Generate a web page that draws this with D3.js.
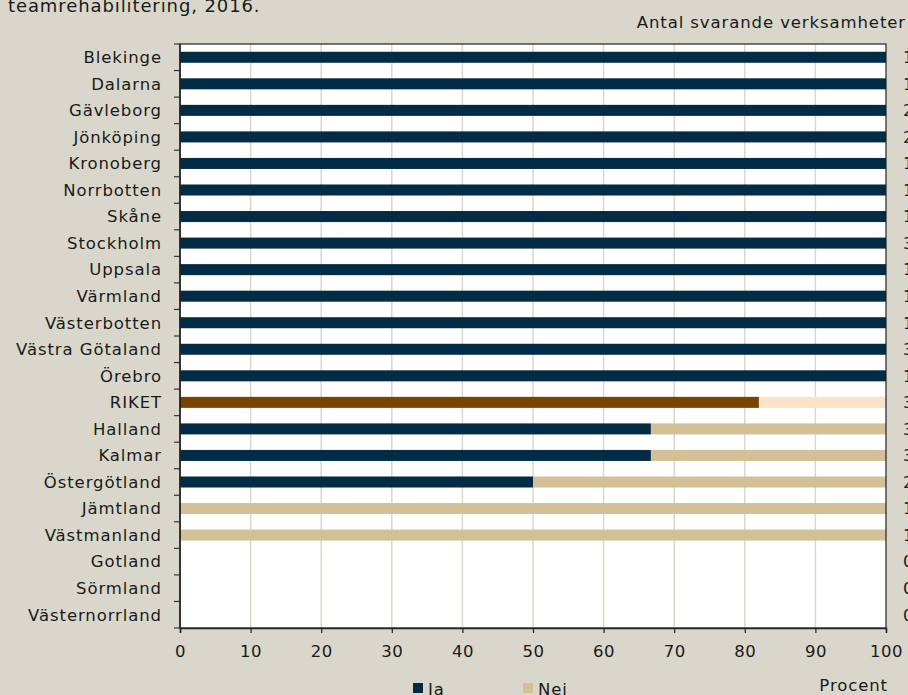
<!DOCTYPE html>
<html>
<head>
<meta charset="utf-8">
<script src="https://cdn.jsdelivr.net/npm/d3@7"></script>
<style>
  html, body { margin: 0; padding: 0; background: #d9d7cb; overflow: hidden; }
  text { font-family: "DejaVu Sans", sans-serif; fill: #1a1a1a; }
</style>
</head>
<body>
<div id="chart"></div>
<script>
// DATA
const regions = ["Blekinge", "Dalarna", "Gävleborg", "Jönköping", "Kronoberg", "Norrbotten",
  "Skåne", "Stockholm", "Uppsala", "Värmland", "Västerbotten", "Västra Götaland", "Örebro",
  "RIKET", "Halland", "Kalmar", "Östergötland", "Jämtland", "Västmanland",
  "Gotland", "Sörmland", "Västernorrland"];
const jaValues = [100, 100, 100, 100, 100, 100, 100, 100, 100, 100, 100, 100, 100,
  82, 66.7, 66.7, 50, 0, 0, 0, 0, 0];
const nejValues = [0, 0, 0, 0, 0, 0, 0, 0, 0, 0, 0, 0, 0,
  18, 33.3, 33.3, 50, 100, 100, 0, 0, 0];
const counts = [1, 1, 2, 2, 1, 1, 1, 3, 1, 1, 1, 3, 1, 33, 3, 3, 2, 1, 1, 0, 0, 0];
const xTicks = [0, 10, 20, 30, 40, 50, 60, 70, 80, 90, 100];
const seriesNames = ["Ja", "Nei"];

const width = 908;
const height = 695;
const margin = { top: 44, right: 22, bottom: 67, left: 180 };

const colors = {
  ja: "#022b45",
  nej: "#d3c096",
  rikeJa: "#7a4400",
  rikeNej: "#fbe3c9",
  grid: "#dcd7c6"
};
const fontSize = 16.5;
const spacing = "0.9px";

const svg = d3.select("#chart")
  .append("svg")
  .attr("width", width)
  .attr("height", height);

// SCALES
const xScale = d3.scaleLinear().domain([0, 100]).range([margin.left, width - margin.right]);
const yScale = d3.scaleBand().domain(regions)
  .range([margin.top, height - margin.bottom])
  .paddingInner(0.585).paddingOuter(0.2925);

// PLOT BACKGROUND
svg.append("rect")
  .attr("x", margin.left)
  .attr("y", margin.top)
  .attr("width", xScale(100) - margin.left)
  .attr("height", height - margin.bottom - margin.top)
  .attr("fill", "#fff");

// GRID
svg.append("g")
  .selectAll("line")
  .data(xTicks.slice(1, -1))
  .join("line")
  .attr("x1", (d) => xScale(d))
  .attr("x2", (d) => xScale(d))
  .attr("y1", margin.top)
  .attr("y2", height - margin.bottom)
  .attr("stroke", colors.grid)
  .attr("stroke-width", 1.5);

// BARS
const rows = regions.map((r, i) => ({ region: r, ja: jaValues[i], nej: nejValues[i] }));
svg.append("g")
  .selectAll("rect")
  .data(rows.filter((d) => d.ja > 0))
  .join("rect")
  .attr("x", xScale(0))
  .attr("y", (d) => yScale(d.region))
  .attr("width", (d) => xScale(d.ja) - xScale(0))
  .attr("height", yScale.bandwidth())
  .attr("fill", (d) => (d.region === "RIKET" ? colors.rikeJa : colors.ja));
svg.append("g")
  .selectAll("rect")
  .data(rows.filter((d) => d.nej > 0))
  .join("rect")
  .attr("x", (d) => xScale(d.ja))
  .attr("y", (d) => yScale(d.region))
  .attr("width", (d) => xScale(d.ja + d.nej) - xScale(d.ja))
  .attr("height", yScale.bandwidth())
  .attr("fill", (d) => (d.region === "RIKET" ? colors.rikeNej : colors.nej));

// FRAME
svg.append("rect")
  .attr("x", margin.left)
  .attr("y", margin.top)
  .attr("width", xScale(100) - margin.left)
  .attr("height", height - margin.bottom - margin.top)
  .attr("fill", "none")
  .attr("stroke", "#222")
  .attr("stroke-width", 1.2);

// X AXIS
const xAxis = svg.append("g")
  .attr("transform", `translate(0, ${height - margin.bottom})`)
  .call(d3.axisBottom(xScale).tickValues(xTicks).tickSize(5).tickPadding(12));
xAxis.select(".domain").attr("stroke", "#222").attr("stroke-width", 1.5);
xAxis.selectAll(".tick line").attr("stroke", "#222").attr("stroke-width", 1.2);
xAxis.selectAll("text")
  .attr("font-size", fontSize)
  .attr("font-family", "DejaVu Sans")
  .attr("letter-spacing", "0.5px")
  .attr("fill", "#1a1a1a");

// Y AXIS (ticks between categories)
const step = yScale.step();
const boundaries = d3.range(regions.length + 1).map((i) => margin.top + i * step);
svg.append("g")
  .selectAll("line")
  .data(boundaries)
  .join("line")
  .attr("x1", margin.left - 6)
  .attr("x2", margin.left)
  .attr("y1", (d) => d)
  .attr("y2", (d) => d)
  .attr("stroke", "#333")
  .attr("stroke-width", 1.2);
svg.append("line")
  .attr("x1", margin.left).attr("x2", margin.left)
  .attr("y1", margin.top).attr("y2", height - margin.bottom)
  .attr("stroke", "#222").attr("stroke-width", 1.5);

svg.append("g")
  .selectAll("text")
  .data(regions)
  .join("text")
  .attr("x", 162)
  .attr("y", (d) => yScale(d) + yScale.bandwidth() / 2)
  .attr("dy", "0.35em")
  .attr("text-anchor", "end")
  .attr("font-size", fontSize)
  .attr("letter-spacing", spacing)
  .text((d) => d);

// COUNTS (cut off at the right edge, as in the source)
svg.append("g")
  .selectAll("text")
  .data(regions)
  .join("text")
  .attr("x", 903)
  .attr("y", (d) => yScale(d) + yScale.bandwidth() / 2)
  .attr("dy", "0.35em")
  .attr("font-size", fontSize)
  .attr("letter-spacing", spacing)
  .text((d, i) => counts[i]);

// TITLES
svg.append("text")
  .attr("x", 8)
  .attr("y", 12)
  .attr("font-size", 18)
  .attr("letter-spacing", spacing)
  .text("teamrehabilitering, 2016.");
svg.append("text")
  .attr("x", 906)
  .attr("y", 28)
  .attr("text-anchor", "end")
  .attr("font-size", fontSize)
  .attr("letter-spacing", spacing)
  .text("Antal svarande verksamheter");
svg.append("text")
  .attr("x", 888)
  .attr("y", 691)
  .attr("text-anchor", "end")
  .attr("font-size", fontSize)
  .attr("letter-spacing", spacing)
  .text("Procent");

// LEGEND
const legend = svg.append("g")
  .selectAll("g")
  .data(seriesNames)
  .join("g")
  .attr("transform", (d, i) => `translate(${413 + i * 110}, 683)`);
legend.append("rect")
  .attr("width", 10)
  .attr("height", 10)
  .attr("fill", (d, i) => (i === 0 ? colors.ja : colors.nej));
legend.append("text")
  .attr("x", 15)
  .attr("y", 12)
  .attr("font-size", fontSize)
  .attr("letter-spacing", spacing)
  .text((d) => d);
</script>
</body>
</html>
